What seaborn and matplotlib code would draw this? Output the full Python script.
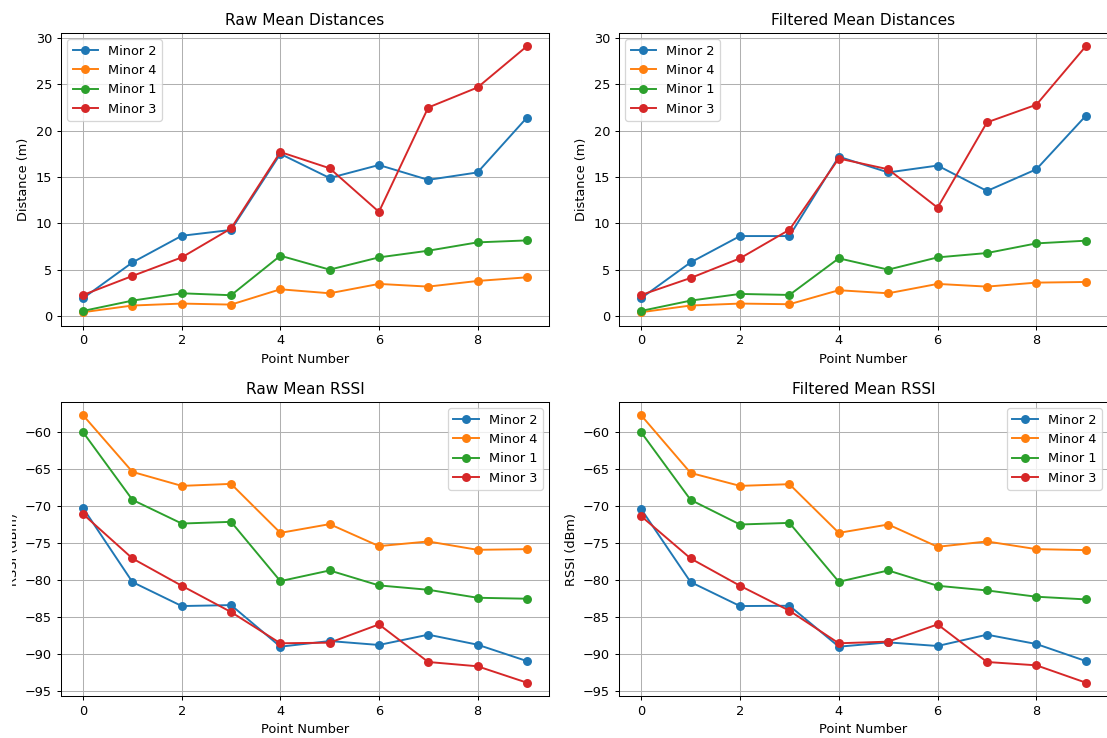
import matplotlib
matplotlib.use("Agg")
import matplotlib.pyplot as plt
from matplotlib.transforms import Bbox, TransformedBbox
import pandas as pd
import seaborn as sns

# Survey points and beacon identifiers
points = list(range(10))
beacons = ["Minor 2", "Minor 4", "Minor 1", "Minor 3"]
colors = ["#1f77b4", "#ff7f0e", "#2ca02c", "#d62728"]

# Raw mean distances (m)
raw_dist_minor2 = [1.95, 5.8, 8.67, 9.3, 17.5, 14.9, 16.3, 14.7, 15.5, 21.4]
raw_dist_minor4 = [0.43, 1.15, 1.36, 1.25, 2.9, 2.47, 3.48, 3.19, 3.8, 4.19]
raw_dist_minor1 = [0.57, 1.68, 2.47, 2.26, 6.52, 5.02, 6.34, 7.06, 7.96, 8.17]
raw_dist_minor3 = [2.29, 4.34, 6.34, 9.46, 17.7, 15.95, 11.25, 22.5, 24.66, 29.1]

# Filtered mean distances (m)
filt_dist_minor2 = [1.95, 5.8, 8.64, 8.64, 17.2, 15.5, 16.24, 13.5, 15.84, 21.6]
filt_dist_minor4 = [0.43, 1.15, 1.36, 1.29, 2.8, 2.47, 3.48, 3.19, 3.62, 3.69]
filt_dist_minor1 = [0.57, 1.68, 2.4, 2.29, 6.24, 5.02, 6.34, 6.81, 7.85, 8.14]
filt_dist_minor3 = [2.29, 4.12, 6.24, 9.32, 17.0, 15.84, 11.7, 20.9, 22.8, 29.1]

# Raw mean RSSI (dBm)
raw_rssi_minor2 = [-70.35, -80.33, -83.57, -83.44, -89.06, -88.3, -88.83, -87.44, -88.79, -91.0]
raw_rssi_minor4 = [-57.8, -65.44, -67.33, -67.06, -73.68, -72.5, -75.47, -74.84, -75.97, -75.88]
raw_rssi_minor1 = [-60.1, -69.22, -72.42, -72.19, -80.2, -78.76, -80.78, -81.37, -82.45, -82.58]
raw_rssi_minor3 = [-71.16, -77.14, -80.83, -84.38, -88.6, -88.52, -86.05, -91.13, -91.71, -93.92]

# Filtered mean RSSI (dBm)
filt_rssi_minor2 = [-70.48, -80.33, -83.57, -83.53, -89.06, -88.48, -88.97, -87.44, -88.7, -91.0]
filt_rssi_minor4 = [-57.8, -65.58, -67.33, -67.1, -73.68, -72.55, -75.56, -74.84, -75.88, -76.01]
filt_rssi_minor1 = [-60.1, -69.22, -72.55, -72.33, -80.29, -78.76, -80.83, -81.46, -82.31, -82.67]
filt_rssi_minor3 = [-71.43, -77.14, -80.83, -84.2, -88.6, -88.38, -86.05, -91.13, -91.58, -93.92]


def long_frame(series):
    rows = []
    for name, values in zip(beacons, series):
        for p, v in zip(points, values):
            rows.append({"Point Number": p, "value": v, "Beacon": name})
    return pd.DataFrame(rows)


panels = [
    ("Raw Mean Distances", "Distance (m)", "upper left",
     [raw_dist_minor2, raw_dist_minor4, raw_dist_minor1, raw_dist_minor3]),
    ("Filtered Mean Distances", "Distance (m)", "upper left",
     [filt_dist_minor2, filt_dist_minor4, filt_dist_minor1, filt_dist_minor3]),
    ("Raw Mean RSSI", "RSSI (dBm)", "upper right",
     [raw_rssi_minor2, raw_rssi_minor4, raw_rssi_minor1, raw_rssi_minor3]),
    ("Filtered Mean RSSI", "RSSI (dBm)", "upper right",
     [filt_rssi_minor2, filt_rssi_minor4, filt_rssi_minor1, filt_rssi_minor3]),
]

W, H = 1107, 738
DPI = 92.25
fig = plt.figure(figsize=(W / DPI, H / DPI), dpi=DPI)

# axes boxes in pixels: (left, top, right, bottom)
boxes = [
    (61, 33, 549, 325.5),
    (619, 33, 1108, 325.5),
    (61, 402, 549, 696),
    (619, 402, 1108, 696),
]

# y-labels are cut off at the left margin of the canvas
label_clip = TransformedBbox(Bbox([[12 / W, 0], [1, 1]]), fig.transFigure)

for (title, ylabel, loc, series), (l, t, r, b) in zip(panels, boxes):
    ax = fig.add_axes([l / W, 1 - b / H, (r - l) / W, (b - t) / H])
    df = long_frame(series)
    sns.lineplot(data=df, x="Point Number", y="value", hue="Beacon",
                 hue_order=beacons, palette=colors, marker="o",
                 markersize=7, markeredgewidth=0, linewidth=1.5,
                 errorbar=None, ax=ax)
    leg = ax.get_legend()
    handles = leg.legend_handles
    labels = [txt.get_text() for txt in leg.get_texts()]
    ax.legend(handles, labels, loc=loc)
    ax.set_title(title)
    ax.set_xlabel("Point Number")
    ylab = ax.set_ylabel(ylabel)
    ylab.set_clip_box(label_clip)
    ylab.set_clip_on(True)
    ax.grid(True)

fig.savefig("out.png", dpi=DPI)
